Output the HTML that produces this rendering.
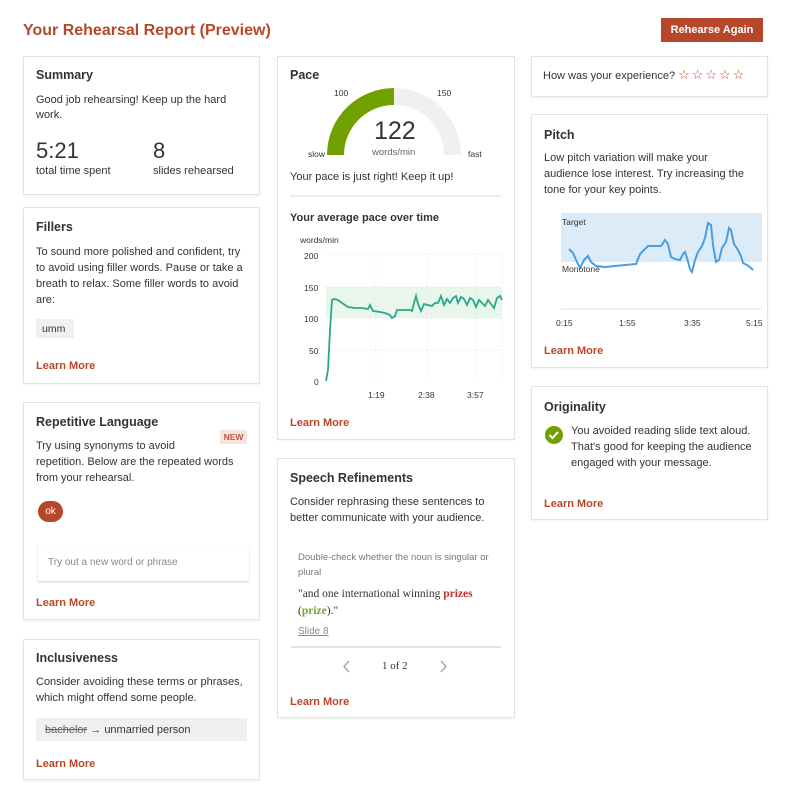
<!DOCTYPE html>
<html><head><meta charset="utf-8"><style>
*{margin:0;padding:0;box-sizing:border-box}
body{width:791px;height:805px;background:#fff;position:relative;font-family:"Segoe UI","Liberation Sans",sans-serif;color:#333;overflow:hidden}
.c{position:absolute;border:1px solid #e3e3e3;background:#fff;box-shadow:0 1px 2px rgba(0,0,0,.06);z-index:-1}
.t{position:absolute;white-space:nowrap;font-size:11px;line-height:16px;color:#333}
.h{font-weight:bold;font-size:12.5px;color:#333}
.lm{color:#b7472a;font-weight:bold;font-size:11px}
svg{position:absolute;left:0;top:0}
</style></head><body>
<div class="t" style="left:23px;top:21px;font-size:16px;line-height:20px;color:#b7472a;font-weight:bold">Your Rehearsal Report (Preview)</div>
<div style="position:absolute;left:661px;top:18px;width:102px;height:24px;background:#b7472a;color:#fff;font-size:11px;font-weight:bold;text-align:center;line-height:24px">Rehearse Again</div>

<!-- col1 -->
<div class="c" style="left:23px;top:56px;width:237px;height:139px"></div>
<div class="t h" style="left:36px;top:67px">Summary</div>
<div class="t" style="left:36px;top:92px">Good job rehearsing! Keep up the hard</div>
<div class="t" style="left:36px;top:107px">work.</div>
<div class="t" style="left:36px;top:138px;font-size:22px;line-height:26px">5:21</div>
<div class="t" style="left:36px;top:163px">total time spent</div>
<div class="t" style="left:153px;top:138px;font-size:22px;line-height:26px">8</div>
<div class="t" style="left:153px;top:163px">slides rehearsed</div>

<div class="c" style="left:23px;top:207px;width:237px;height:177px"></div>
<div class="t h" style="left:36px;top:219px">Fillers</div>
<div class="t" style="left:36px;top:244px">To sound more polished and confident, try</div>
<div class="t" style="left:36px;top:260px">to avoid using filler words. Pause or take a</div>
<div class="t" style="left:36px;top:276px">breath to relax. Some filler words to avoid</div>
<div class="t" style="left:36px;top:292px">are:</div>
<div style="position:absolute;left:36px;top:319px;width:38px;height:19px;background:#f0f0f0"></div>
<div class="t" style="left:42px;top:321px;font-size:10.5px">umm</div>
<div class="t lm" style="left:36px;top:358px">Learn More</div>

<div class="c" style="left:23px;top:402px;width:237px;height:218px"></div>
<div class="t h" style="left:36px;top:414px">Repetitive Language</div>
<div style="position:absolute;left:220px;top:430px;width:27px;height:14px;background:#f7e4dc;color:#c0574a;font-size:8.5px;font-weight:bold;text-align:center;line-height:14px">NEW</div>
<div class="t" style="left:36px;top:438px">Try using synonyms to avoid</div>
<div class="t" style="left:36px;top:454px">repetition. Below are the repeated words</div>
<div class="t" style="left:36px;top:470px">from your rehearsal.</div>
<div style="position:absolute;left:38px;top:501px;width:25px;height:21px;border-radius:11px;background:#b7472a;color:#fff;font-size:10px;text-align:center;line-height:21px">ok</div>
<div style="position:absolute;left:38px;top:545px;width:211px;height:36px;background:#fff;box-shadow:0 1px 2px rgba(0,0,0,.2)"></div>
<div class="t" style="left:48px;top:555px;font-size:10px;color:#888">Try out a new word or phrase</div>
<div class="t lm" style="left:36px;top:595px">Learn More</div>

<div class="c" style="left:23px;top:639px;width:237px;height:141px"></div>
<div class="t h" style="left:36px;top:650px">Inclusiveness</div>
<div class="t" style="left:36px;top:674px">Consider avoiding these terms or phrases,</div>
<div class="t" style="left:36px;top:690px">which might offend some people.</div>
<div style="position:absolute;left:36px;top:718px;width:211px;height:23px;background:#f0f0f0"></div>
<div class="t" style="left:45px;top:722px"><span style="text-decoration:line-through;color:#666">bachelor</span> → unmarried person</div>
<div class="t lm" style="left:36px;top:756px">Learn More</div>

<!-- col2 -->
<div class="c" style="left:277px;top:56px;width:238px;height:384px"></div>
<div class="t h" style="left:290px;top:67px">Pace</div>
<div class="c" style="left:277px;top:458px;width:238px;height:260px"></div>
<div class="c" style="left:531px;top:56px;width:237px;height:41px"></div>
<div class="c" style="left:531px;top:114px;width:237px;height:254px"></div>
<div class="c" style="left:531px;top:386px;width:237px;height:134px"></div>
<svg width="791" height="805">
<path d="M335.5 155 A58.5 58.5 0 0 1 394 96.5" fill="none" stroke="#71a100" stroke-width="17"/>
<path d="M394 96.5 A58.5 58.5 0 0 1 452.5 155" fill="none" stroke="#f0f0f0" stroke-width="17"/>
<line x1="290" y1="196" x2="501" y2="196" stroke="#e8e8e8" stroke-width="1.5"/>
<rect x="326" y="287" width="176" height="31" fill="#e9f6ec"/>
<g stroke="#ddd" stroke-dasharray="1,3">
<line x1="326" y1="254" x2="502" y2="254"/><line x1="326" y1="287" x2="502" y2="287"/><line x1="326" y1="318" x2="502" y2="318"/><line x1="326" y1="350" x2="502" y2="350"/>
<line x1="376" y1="254" x2="376" y2="381"/><line x1="427" y1="254" x2="427" y2="381"/><line x1="476" y1="254" x2="476" y2="381"/><line x1="502" y1="254" x2="502" y2="381"/>
</g>
<polyline fill="none" stroke="#2aa889" stroke-width="1.8" points="326,381 328,370 330,330 332,300 334,299 338,300 342,303 348,307 355,308 362,308 368,309 370,305 373,311 380,312 385,313 390,315 392,318 395,316 397,310 403,310 410,310 412,311 414,303 416,296 418,304 421,311 424,304 428,305 432,306 435,303 438,303 441,296 444,305 447,299 450,303 453,298 456,296 458,303 461,297 464,299 467,305 470,298 473,300 476,307 479,300 482,303 485,306 488,300 491,304 494,308 497,298 500,296 502,300"/>
<rect x="561" y="213" width="201" height="49" fill="#dcebf8"/>
<line x1="561" y1="309" x2="762" y2="309" stroke="#e3e3e3"/>
<polyline fill="none" stroke="#4a9ee0" stroke-width="2" points="569,249 573,253 577,262 580,268 584,260 588,256 591,262 596,266 605,267 615,266 625,265 636,264 640,254 644,250 648,246 655,246 661,246 665,240 668,244 671,257 675,259 680,260 683,254 685,252 687,258 690,269 692,272 695,260 698,252 702,246 705,238 708,223 711,225 713,245 716,262 719,260 722,248 726,242 729,228 731,230 734,244 738,250 741,256 743,263 747,265 751,268 753,270"/>
<circle cx="554" cy="435" r="9" fill="#71a100"/>
<path d="M549.5 435 l3 3 l5.5 -6" fill="none" stroke="#fff" stroke-width="2"/>
<line x1="291" y1="647" x2="501" y2="647" stroke="#e3e3e3" stroke-width="2"/>
<path d="M349 661 l-5 5.5 l5 5.5 M441 661 l5 5.5 l-5 5.5" fill="none" stroke="#999" stroke-width="1.3"/>
</svg>
<div class="t" style="left:334px;top:85px;font-size:8.5px">100</div>
<div class="t" style="left:437px;top:85px;font-size:8.5px">150</div>
<div class="t" style="left:308px;top:146px;font-size:8.5px">slow</div>
<div class="t" style="left:468px;top:146px;font-size:8.5px">fast</div>
<div class="t" style="left:374px;top:116px;font-size:25px;line-height:30px">122</div>
<div class="t" style="left:372px;top:145px;font-size:9.5px;color:#666">words/min</div>
<div class="t" style="left:290px;top:169px">Your pace is just right! Keep it up!</div>
<div class="t h" style="left:290px;top:210px;font-size:11px">Your average pace over time</div>
<div class="t" style="left:300px;top:232px;font-size:8.5px">words/min</div>
<div class="t" style="left:304px;top:248px;font-size:8.5px">200</div>
<div class="t" style="left:304px;top:280px;font-size:8.5px">150</div>
<div class="t" style="left:304px;top:311px;font-size:8.5px">100</div>
<div class="t" style="left:309px;top:343px;font-size:8.5px">50</div>
<div class="t" style="left:314px;top:374px;font-size:8.5px">0</div>
<div class="t" style="left:368px;top:387px;font-size:8.5px">1:19</div>
<div class="t" style="left:418px;top:387px;font-size:8.5px">2:38</div>
<div class="t" style="left:467px;top:387px;font-size:8.5px">3:57</div>
<div class="t lm" style="left:290px;top:415px">Learn More</div>

<div class="t h" style="left:290px;top:470px">Speech Refinements</div>
<div class="t" style="left:290px;top:494px">Consider rephrasing these sentences to</div>
<div class="t" style="left:290px;top:510px">better communicate with your audience.</div>
<div class="t" style="left:298px;top:550px;font-size:9.5px;color:#777">Double-check whether the noun is singular or</div>
<div class="t" style="left:298px;top:565px;font-size:9.5px;color:#777">plural</div>
<div class="t" style="left:298px;top:586px;font-family:'Liberation Serif',serif;font-size:11.5px">"and one international winning <b style="color:#c4312a">prizes</b></div>
<div class="t" style="left:298px;top:603px;font-family:'Liberation Serif',serif;font-size:11.5px">(<b style="color:#7aa22a">prize</b>)."</div>
<div class="t" style="left:298px;top:624px;font-size:10px;color:#888;text-decoration:underline">Slide 8</div>
<div class="t" style="left:382px;top:658px;font-family:'Liberation Serif',serif;font-size:11px">1 of 2</div>
<div class="t lm" style="left:290px;top:694px">Learn More</div>

<!-- col3 -->
<div class="t" style="left:543px;top:67px">How was your experience? <span style="color:#b7472a;font-size:13px;letter-spacing:2px">☆☆☆☆☆</span></div>

<div class="t h" style="left:544px;top:127px">Pitch</div>
<div class="t" style="left:544px;top:150px">Low pitch variation will make your</div>
<div class="t" style="left:544px;top:166px">audience lose interest. Try increasing the</div>
<div class="t" style="left:544px;top:182px">tone for your key points.</div>
<div class="t" style="left:562px;top:214px;font-size:8.5px">Target</div>
<div class="t" style="left:562px;top:261px;font-size:8.5px">Monotone</div>
<div class="t" style="left:556px;top:315px;font-size:8.5px">0:15</div>
<div class="t" style="left:619px;top:315px;font-size:8.5px">1:55</div>
<div class="t" style="left:684px;top:315px;font-size:8.5px">3:35</div>
<div class="t" style="left:746px;top:315px;font-size:8.5px">5:15</div>
<div class="t lm" style="left:544px;top:343px">Learn More</div>

<div class="t h" style="left:544px;top:399px">Originality</div>
<div class="t" style="left:571px;top:423px">You avoided reading slide text aloud.</div>
<div class="t" style="left:571px;top:439px">That's good for keeping the audience</div>
<div class="t" style="left:571px;top:455px">engaged with your message.</div>
<div class="t lm" style="left:544px;top:496px">Learn More</div>
</body></html>
